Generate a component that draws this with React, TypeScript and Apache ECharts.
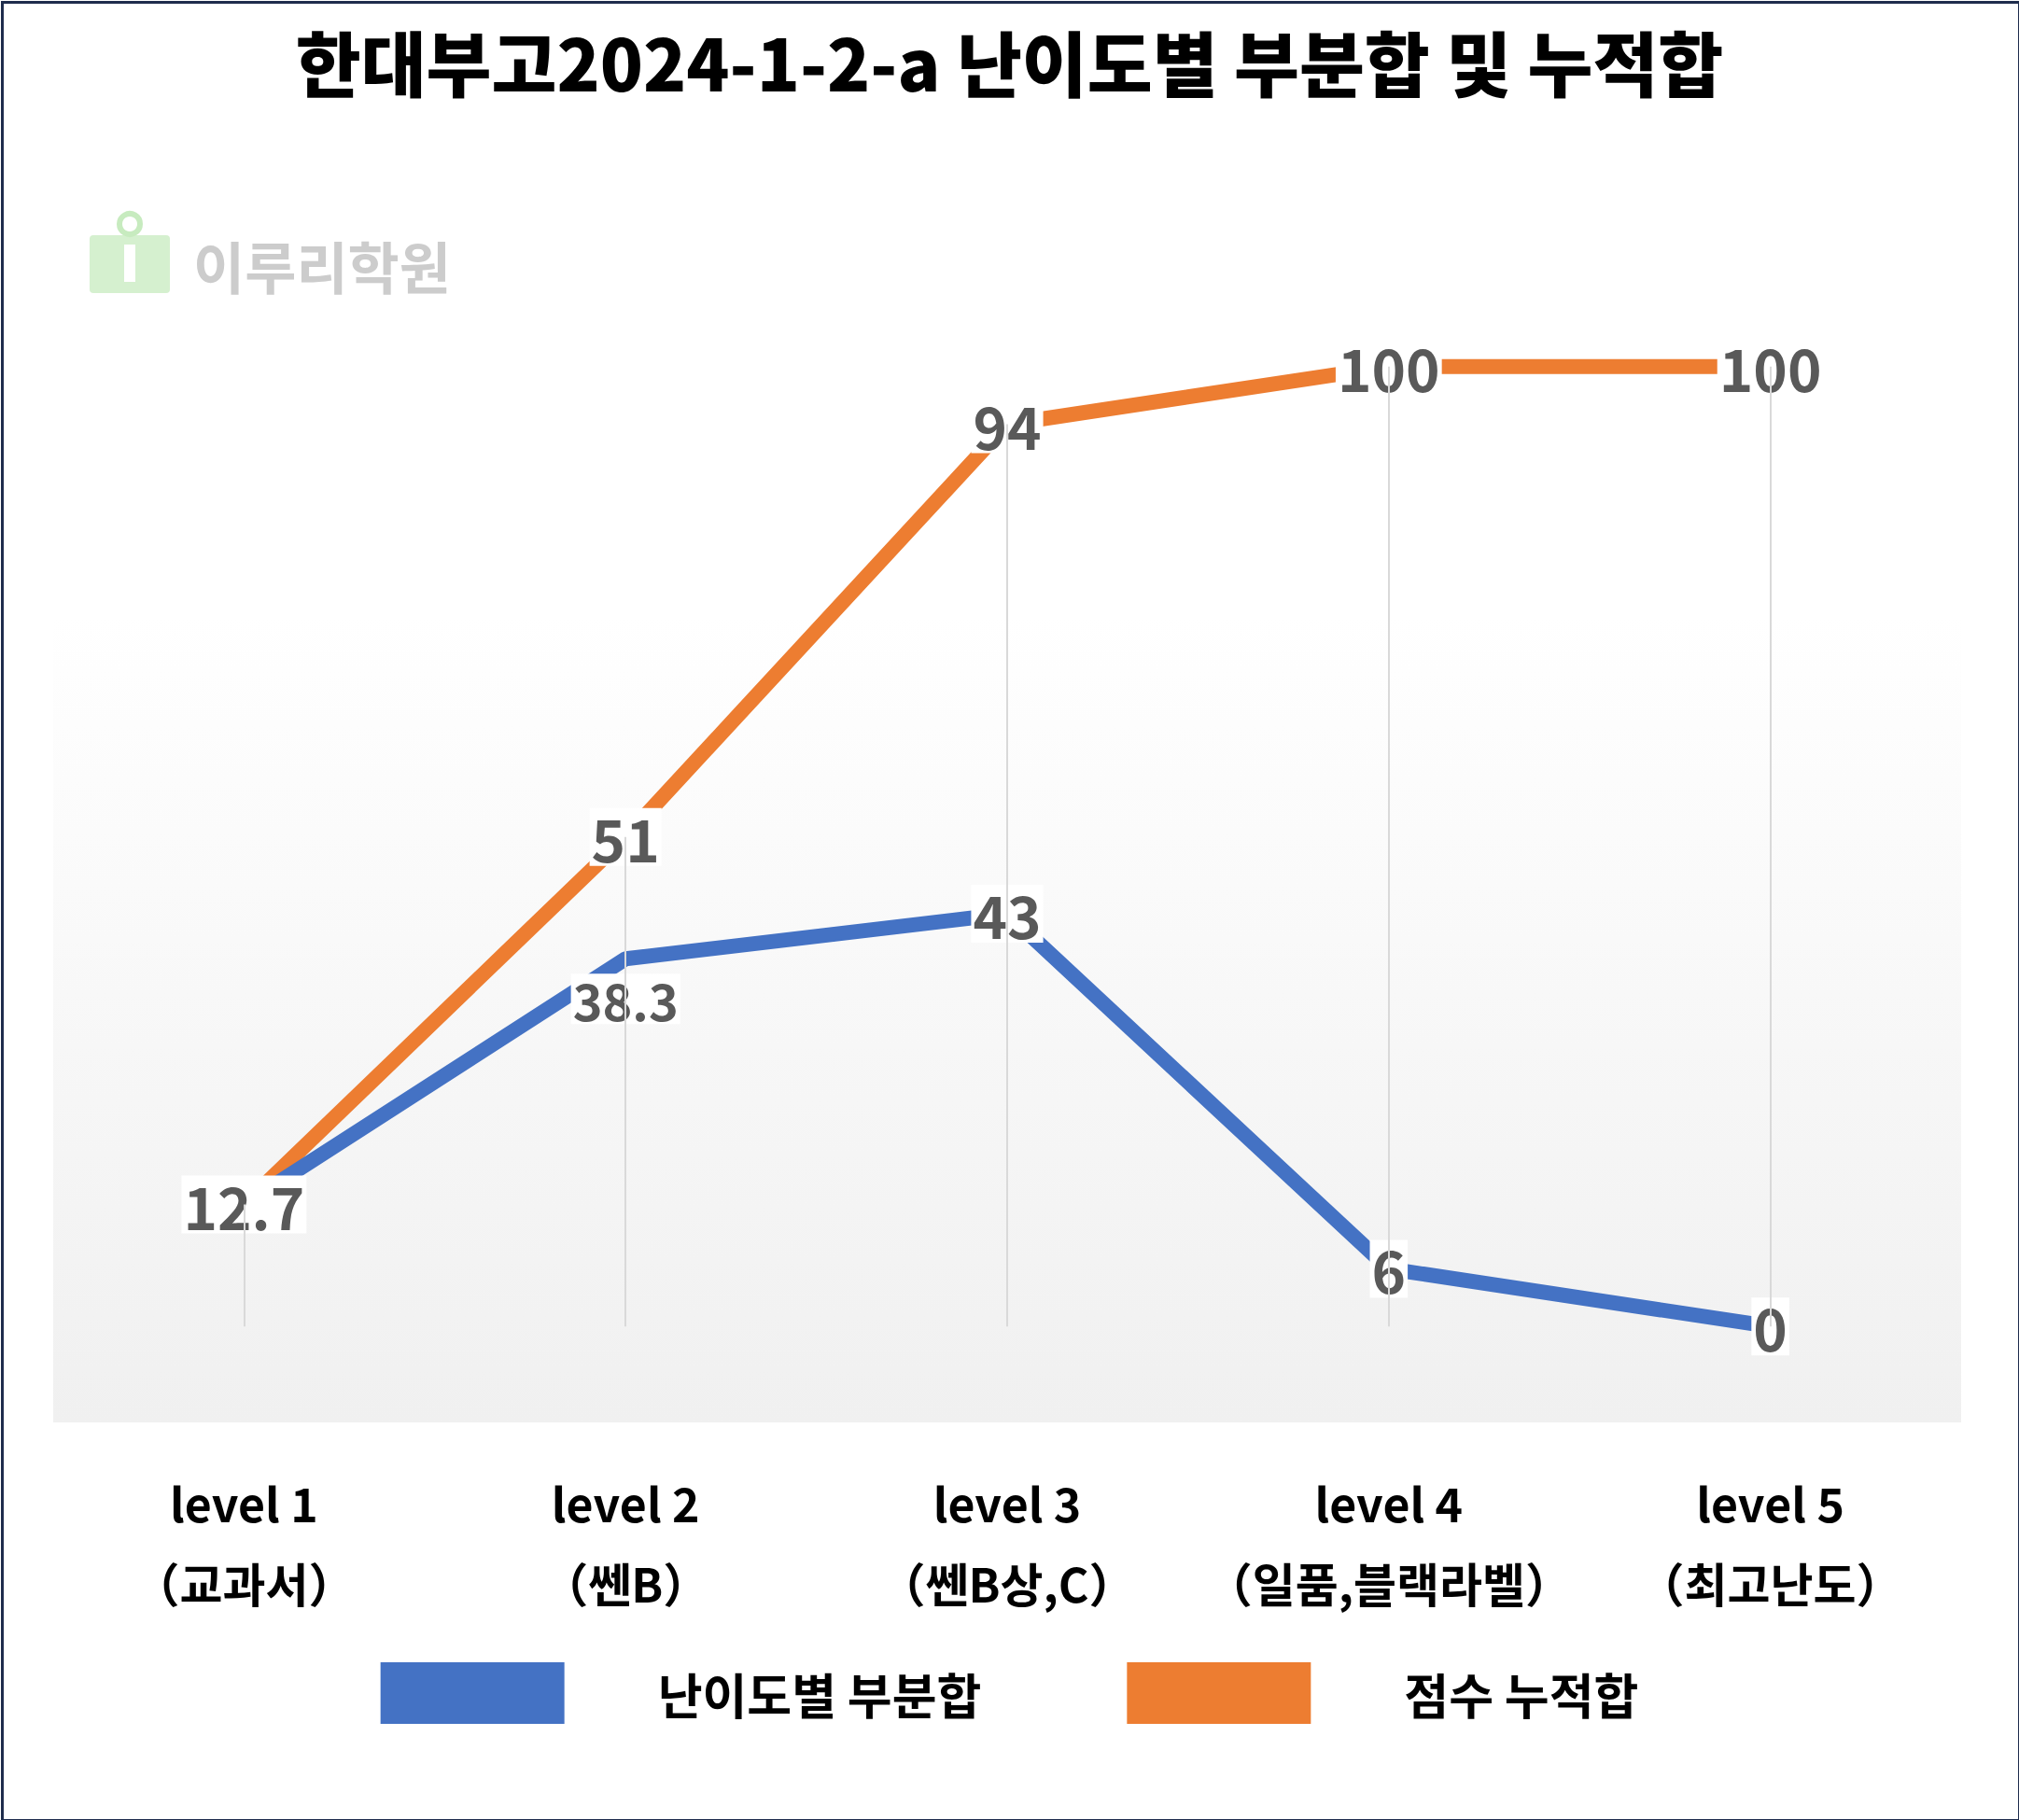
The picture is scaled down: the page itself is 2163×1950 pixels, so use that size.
import React, { useEffect, useRef } from "react";
import * as echarts from "echarts";

const categories = ["level 1\n（교과서）", "level 2\n（쎈B）", "level 3\n（쎈B상,C）", "level 4\n（일품,블랙라벨）", "level 5\n（최고난도）"];
const partialSum = [12.7, 38.3, 43, 6, 0];
const cumulativeSum = [12.7, 51, 94, 100, 100];
const seriesNames = ["난이도별 부분합", "점수 누적합"];
const titleText = "한대부고2024-1-2-a 난이도별 부분합 및 누적합";

const FONT = "'Noto Sans CJK KR', 'Noto Sans', sans-serif";

export default function App() {
  const ref = useRef<HTMLDivElement>(null);
  useEffect(() => {
    const chart = echarts.init(ref.current!, undefined, { renderer: "svg" });
    const labelBase = {
      show: true,
      position: "inside" as const,
      color: "#595959",
      fontFamily: FONT,
      fontWeight: "bold" as const,
      fontSize: 62,
      backgroundColor: "#ffffff",
      padding: [0, 2],
    };
    chart.setOption({
      animation: false,
      title: {
        text: titleText,
        left: "center",
        top: 22,
        textStyle: { fontFamily: FONT, fontWeight: 900, fontSize: 76, color: "#000" },
      },
      graphic: [
        { type: "rect", left: 0, top: 0, shape: { width: 2161, height: 1948 }, style: { fill: "none", stroke: "#1f2d4d", lineWidth: 3 }, silent: true },
        { type: "rect", shape: { x: 96, y: 252, width: 86, height: 62, r: 4 }, style: { fill: "#d5f0cf" }, z: 10 },
        { type: "circle", shape: { cx: 139, cy: 240, r: 11 }, style: { fill: "none", stroke: "#c7ebbf", lineWidth: 6 }, z: 10 },
        { type: "rect", shape: { x: 133, y: 262, width: 12, height: 40 }, style: { fill: "#ffffff" }, z: 11 },
        { type: "text", x: 207, y: 283, style: { text: "이루리학원", font: `bold 60px ${FONT}`, fill: "#cccccc", textVerticalAlign: "middle" }, z: 10 },
      ],
      legend: {
        bottom: 98,
        left: "center",
        itemWidth: 197,
        itemHeight: 66,
        itemGap: 156,
        icon: "rect",
        data: seriesNames,
        itemStyle: { opacity: 1 },
        textStyle: { fontFamily: FONT, fontWeight: "bold", fontSize: 52, color: "#000", padding: [0, 0, 0, 95] },
      },
      grid: {
        left: 57, right: 62, top: 290, bottom: 426,
        show: true, borderWidth: 0,
        backgroundColor: new echarts.graphic.LinearGradient(0, 0, 0, 1, [
          { offset: 0, color: "#ffffff" },
          { offset: 0.3, color: "#ffffff" },
          { offset: 1, color: "#f0f0f0" },
        ]),
      },
      xAxis: {
        type: "category",
        data: categories,
        boundaryGap: true,
        axisLine: { show: false },
        axisTick: { show: false },
        axisLabel: { interval: 0, margin: 42, fontFamily: FONT, fontWeight: "bold", fontSize: 50, color: "#000", lineHeight: 86, verticalAlign: "top" },
      },
      yAxis: { type: "value", min: -10, max: 110, show: false, splitLine: { show: false } },
      series: [
        {
          name: "drop",
          type: "line",
          data: [],
          silent: true,
          markLine: {
            symbol: "none",
            silent: true,
            label: { show: false },
            lineStyle: { color: "#d9d9d9", width: 2, type: "solid" },
            data: categories.map((_, i) => [
              { coord: [i, 0] },
              { coord: [i, Math.max(partialSum[i], cumulativeSum[i])] },
            ]),
          },
        },
        {
          name: seriesNames[1],
          type: "line",
          data: cumulativeSum,
          color: "#ED7D31",
          symbol: "circle",
          symbolSize: 4,
          showSymbol: true,
          itemStyle: { color: "#ED7D31" },
          lineStyle: { width: 16, color: "#ED7D31" },
          label: { ...labelBase, formatter: (p: any) => (p.dataIndex === 0 ? "" : String(p.value)) },
          labelLayout: { hideOverlap: false },
          z: 3,
        },
        {
          name: seriesNames[0],
          type: "line",
          data: partialSum.map((v, i) =>
            i === 1 ? { value: v, label: { position: "bottom", distance: 14, offset: [30, 0], fontSize: 54 } } : v
          ),
          color: "#4472C4",
          symbol: "circle",
          symbolSize: 4,
          showSymbol: true,
          itemStyle: { color: "#4472C4" },
          lineStyle: { width: 16, color: "#4472C4" },
          label: { ...labelBase },
          labelLayout: { hideOverlap: false },
          z: 4,
        },
      ],
    });
    return () => chart.dispose();
  }, []);
  return <div ref={ref} style={{ position: "fixed", left: 0, top: 0, width: 2163, height: 1950, background: "#fff" }} />;
}
